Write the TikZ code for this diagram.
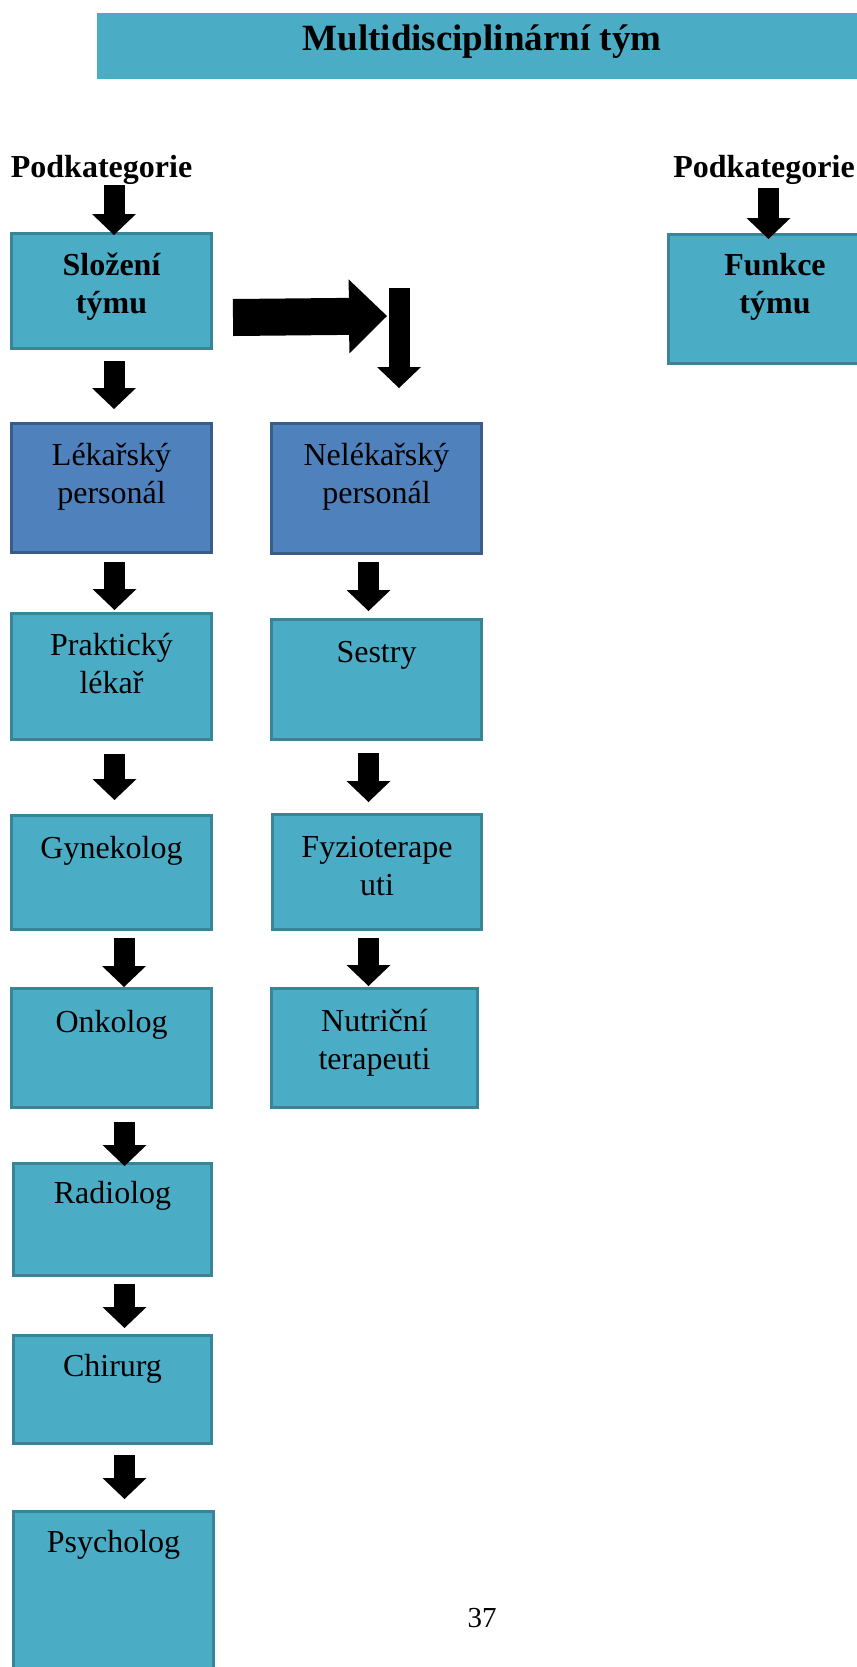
\documentclass[tikz,border=0pt]{standalone}
\usepackage{fontspec}
\setmainfont{Liberation Serif}
\usetikzlibrary{arrows.meta,calc}
\definecolor{aqua}{HTML}{4BACC6}
\definecolor{aquaedge}{HTML}{3A8497}
\definecolor{blu}{HTML}{4F81BD}
\definecolor{bluedge}{HTML}{385D8A}
\tikzset{
  box/.style={draw=aquaedge, fill=aqua, line width=1.5pt, inner sep=0pt, anchor=north west},
  bluebox/.style={box, draw=bluedge, fill=blu},
  txt/.style={anchor=base, inner sep=0pt, font=\fontsize{16}{19}\selectfont},
  btxt/.style={txt, font=\fontsize{16}{19}\selectfont\bfseries},
  varrow/.style={line width=10.5pt, -{Triangle[width=22pt,length=10.5pt,line width=0pt]}},
  harrow/.style={line width=18.5pt, -{Triangle[width=37pt,length=19pt,line width=0pt]}}
}
\newcommand{\twolines}[2]{\begin{tabular}[t]{@{}c@{}}#1\\#2\end{tabular}}
\begin{document}
\begin{tikzpicture}[x=0.5pt,y=-0.5pt]
\useasboundingbox (0,0) rectangle (857,1667);
\clip (0,0) rectangle (857,1667);
% title
\node[fill=aqua, inner sep=0pt, anchor=north west, minimum width=391.5pt, minimum height=33pt] (title) at (97,13) {};
\node[anchor=base, inner sep=0pt, font=\fontsize{18.5}{22}\selectfont\bfseries] (titletext) at (482,50) {Multidisciplinární tým};
% subcategory labels
\node[anchor=base west, inner sep=0pt, font=\fontsize{16}{19}\selectfont\bfseries] (podk1) at (10.5,177) {Podkategorie};
\node[anchor=base west, inner sep=0pt, font=\fontsize{16}{19}\selectfont\bfseries] (podk2) at (673,177) {Podkategorie};
% left column
\node[box, minimum width=100pt, minimum height=57.5pt] (slozeni) at (10,232) {};
\node[bluebox, minimum width=100pt, minimum height=64.5pt] (lekar) at (10,422) {};
\node[box, minimum width=100pt, minimum height=63pt] (prakt) at (10,612) {};
\node[box, minimum width=100pt, minimum height=57pt] (gyn) at (10,814) {};
\node[box, minimum width=100pt, minimum height=59.5pt] (onk) at (10,987) {};
\node[box, minimum width=99pt, minimum height=56pt] (radio) at (12,1162) {};
\node[box, minimum width=99pt, minimum height=54pt] (chir) at (12,1334) {};
\node[box, minimum width=100pt, minimum height=90pt] (psych) at (12,1510) {};
% middle column
\node[bluebox, minimum width=105pt, minimum height=65pt] (nelekar) at (270,422) {};
\node[box, minimum width=105pt, minimum height=60pt] (sestry) at (270,618) {};
\node[box, minimum width=104.5pt, minimum height=57.5pt] (fyzio) at (271,813) {};
\node[box, minimum width=103pt, minimum height=59.5pt] (nutri) at (270,987) {};
% right column
\node[box, minimum width=106.5pt, minimum height=64.5pt] (funkce) at (667,233) {};
% texts
\node[btxt] (slozenit) at ($(slozeni.north)+(0,43)$) {\twolines{Složení}{týmu}};
\node[txt] (lekart) at ($(lekar.north)+(0,43)$) {\twolines{Lékařský}{personál}};
\node[txt] (praktt) at ($(prakt.north)+(0,43)$) {\twolines{Praktický}{lékař}};
\node[txt] (gynt) at ($(gyn.north)+(0,44)$) {Gynekolog};
\node[txt] (onkt) at ($(onk.north)+(0,45)$) {Onkolog};
\node[txt] (radiot) at ($(radio.north)+(0,41)$) {Radiolog};
\node[txt] (chirt) at ($(chir.north)+(0,42)$) {Chirurg};
\node[txt] (psycht) at ($(psych.north)+(0,42)$) {Psycholog};
\node[txt] (nelekart) at ($(nelekar.north)+(0,43)$) {\twolines{Nelékařský}{personál}};
\node[txt] (sestryt) at ($(sestry.north)+(0,44)$) {Sestry};
\node[txt] (fyziot) at ($(fyzio.north)+(0,44)$) {\twolines{Fyzioterape}{uti}};
\node[txt] (nutrit) at ($(nutri.north)+(0,44)$) {\twolines{Nutriční}{terapeuti}};
\node[btxt] (funkcet) at ($(funkce.north)+(0,42)$) {\twolines{Funkce}{týmu}};
% page number
\node[anchor=base, inner sep=0pt, font=\fontsize{14.5}{17}\selectfont] (pagenum) at (482,1627) {37};
% arrows, left column
\draw[varrow] ($(slozeni.north)+(2.5,-47)$) -- ($(slozeni.north)+(2.5,3)$);
\draw[varrow] ($(slozeni.south)+(2.5,11)$) -- ($(lekar.north)+(2.5,-13)$);
\draw[varrow] ($(lekar.south)+(3,8)$) -- ($(prakt.north)+(3,-2)$);
\draw[varrow] ($(prakt.south)+(3,13)$) -- ($(gyn.north)+(3,-14)$);
\draw[varrow] ($(gyn.south)+(12.5,7)$) -- ($(onk.north)+(12.5,0)$);
\draw[varrow] ($(onk.south)+(13,13)$) -- ($(radio.north)+(12,4)$);
\draw[varrow] ($(radio.south)+(12,7)$) -- ($(chir.north)+(12,-6)$);
\draw[varrow] ($(chir.south)+(12,10)$) -- ($(psych.north)+(11,-11)$);
% arrows, middle column
\draw[varrow] ($(nelekar.south)+(-8,7)$) -- ($(sestry.north)+(-8,-7)$);
\draw[varrow] ($(sestry.south)+(-8,12)$) -- ($(fyzio.north)+(-8.5,-11)$);
\draw[varrow] ($(fyzio.south)+(-8.5,7)$) -- ($(nutri.north)+(-6,-1)$);
% arrow, right column
\draw[varrow] ($(funkce.north)+(-6.5,-45)$) -- ($(funkce.north)+(-6.5,6)$);
% big arrow to the right and down
\coordinate (bigtip) at (387,316);
\coordinate (downtop) at (399,288);
\draw[harrow] ($(slozeni.east)+(20,26.5)$) -- (bigtip);
\draw[varrow, shorten >=17pt] (downtop) -- (downtop |- nelekar.north);
\end{tikzpicture}
\end{document}
